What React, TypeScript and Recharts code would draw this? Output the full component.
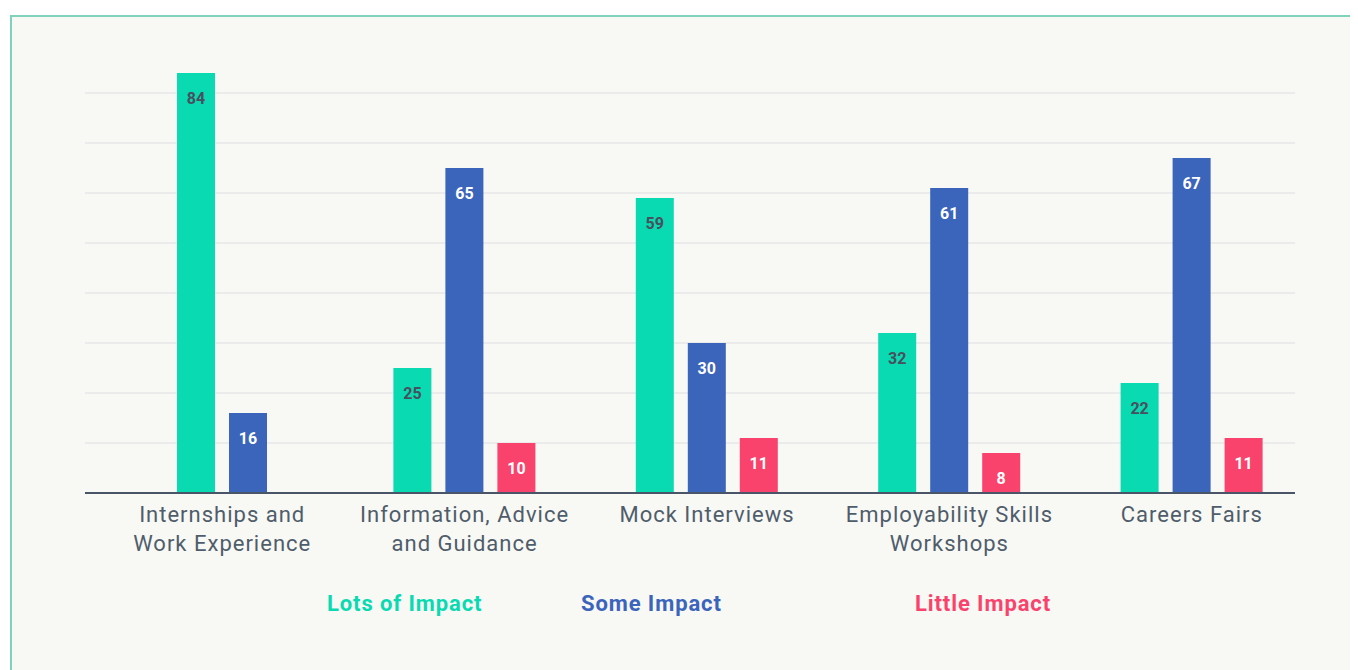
import { Bar, BarChart, CartesianGrid, XAxis, YAxis } from "recharts";

const categories = [
  "Internships and\nWork Experience",
  "Information, Advice\nand Guidance",
  "Mock Interviews",
  "Employability Skills\nWorkshops",
  "Careers Fairs",
];
const lotsOfImpact = [84, 25, 59, 32, 22];
const someImpact = [16, 65, 30, 61, 67];
const littleImpact: (number | null)[] = [null, 10, 11, 8, 11];
const yTicks = [0, 10, 20, 30, 40, 50, 60, 70, 80];

const series = [
  { key: "lots", name: "Lots of Impact", color: "#0adab2", text: "#46505e" },
  { key: "some", name: "Some Impact", color: "#3b64bb", text: "#ffffff" },
  { key: "little", name: "Little Impact", color: "#f9436c", text: "#ffffff" },
];

const data = categories.map((name, i) => ({
  name,
  lots: lotsOfImpact[i],
  some: someImpact[i],
  little: littleImpact[i],
}));

const BAR = 38;
const GAP = 14;
const FONT = "Roboto, 'DejaVu Sans', sans-serif";

// bars in a group without a "little" value are centred in the group
function makeShape(dataKey: string, textColor: string) {
  return (props: any) => {
    const { x, y, width, height, payload, fill } = props;
    const v = payload?.[dataKey];
    if (v == null) return <g />;
    const shift = payload.little == null && dataKey !== "little" ? (BAR + GAP) / 2 : 0;
    return (
      <g>
        <rect x={x + shift} y={y} width={width} height={height} fill={fill} />
        <text
          x={x + shift + width / 2}
          y={y + 25}
          textAnchor="middle"
          dominantBaseline="central"
          fill={textColor}
          fontFamily={FONT}
          fontWeight={700}
          fontSize={16}
        >
          {v}
        </text>
      </g>
    );
  };
}

function CategoryTick({ x, y, payload }: any) {
  const lines = String(payload.value).split("\n");
  return (
    <text
      x={x}
      y={y}
      textAnchor="middle"
      fill="#4f5d6b"
      fontFamily={FONT}
      fontSize={22}
      letterSpacing={1}
    >
      {lines.map((l, i) => (
        <tspan key={i} x={x} dy={i === 0 ? 23 : 29}>
          {l}
        </tspan>
      ))}
    </text>
  );
}

const legendLeft = [315, 569, 903];

export default function App() {
  return (
    <div
      style={{
        position: "relative",
        marginTop: 7,
        marginLeft: 2,
        width: 1346,
        height: 655,
        borderTop: "2px solid #7fd3bb",
        borderLeft: "2px solid #7fd3bb",
        background: "#f8f8f4",
        fontFamily: FONT,
      }}
    >
      <BarChart
        width={1344}
        height={653}
        data={data}
        margin={{ top: 26, right: 61, bottom: 117, left: 73 }}
        barSize={BAR}
        barGap={GAP}
      >
        <CartesianGrid
          vertical={false}
          stroke="#ebebeb"
          strokeWidth={2}
          horizontalValues={yTicks}
        />
        <YAxis hide domain={[0, 90]} ticks={yTicks} />
        <XAxis
          dataKey="name"
          interval={0}
          height={60}
          padding={{ left: 16, right: -18 }}
          axisLine={{ stroke: "#4a5568", strokeWidth: 2 }}
          tickLine={false}
          tickMargin={0}
          tick={<CategoryTick />}
        />
        {series.map((s) => (
          <Bar
            key={s.key}
            dataKey={s.key}
            name={s.name}
            fill={s.color}
            isAnimationActive={false}
            shape={makeShape(s.key, s.text)}
          />
        ))}
      </BarChart>
      {series.map((s, i) => (
        <div
          key={s.key}
          style={{
            position: "absolute",
            top: 573,
            left: legendLeft[i],
            color: s.color,
            fontWeight: 700,
            fontSize: 22,
            letterSpacing: 0.9,
            lineHeight: "28px",
          }}
        >
          {s.name}
        </div>
      ))}
    </div>
  );
}
